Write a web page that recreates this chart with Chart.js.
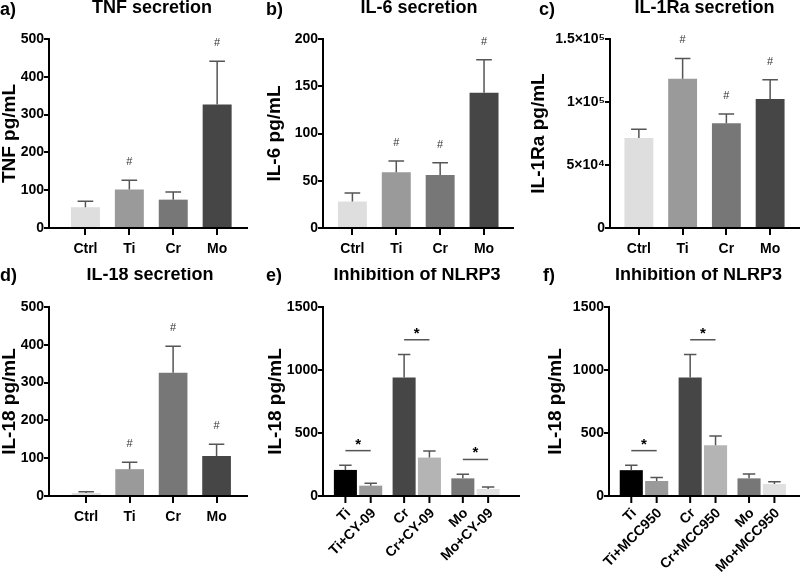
<!DOCTYPE html>
<html>
<head>
<meta charset="utf-8">
<script src="https://cdn.jsdelivr.net/npm/chart.js@4.4.1/dist/chart.umd.min.js"></script>
<style>
  html, body { margin: 0; padding: 0; background: #fff; }
  #wrap { position: relative; width: 800px; height: 577px; overflow: hidden; }
  .panel { position: absolute; }
  .letter { position: absolute; font: bold 18px 'Liberation Sans', Arial, sans-serif; line-height: 18px; color: #000; }
</style>
</head>
<body>
<div id="wrap"></div>
<script>
// cytokine panels a-d
const cytoCats = ['Ctrl', 'Ti', 'Cr', 'Mo'];
const cytoColors = ['#dedede', '#9a9a9a', '#777777', '#464646'];

const tnfMean = [55, 102, 75, 327];
const tnfSem = [16, 24, 20, 114];
const tnfSig = ['', '#', '', '#'];

const il6Mean = [28, 59, 56, 143];
const il6Sem = [9, 12, 13, 35];
const il6Sig = ['', '#', '#', '#'];

const il1raMean = [71500, 118400, 83200, 102300];
const il1raSem = [6900, 16200, 7200, 15400];
const il1raSig = ['', '#', '#', '#'];
const il1raTicks = ['0', '5×10⁴', '1×10⁵', '1.5×10⁵'];

const il18Mean = [8, 71, 326, 106];
const il18Sem = [3, 18, 70, 31];
const il18Sig = ['', '#', '#', '#'];

// NLRP3 inhibition panels e-f
const metalCats = ['Ti', 'Cr', 'Mo'];
const metalColors = ['#000000', '#464646', '#777777'];
const inhibColors = ['#9a9a9a', '#b4b4b4', '#e0e0e0'];

const cyLabels = ['Ti+CY-09', 'Cr+CY-09', 'Mo+CY-09'];
const metalMeanE = [207, 941, 140];
const metalSemE = [37, 183, 32];
const cyMean = [82, 305, 56];
const cySem = [19, 53, 16];
const cySigLine = [360, 1240, 290];

const mccLabels = ['Ti+MCC950', 'Cr+MCC950', 'Mo+MCC950'];
const metalMeanF = [205, 941, 140];
const metalSemF = [39, 183, 35];
const mccMean = [119, 403, 95];
const mccSem = [27, 74, 19];
const mccSigLine = [360, 1240, null];

const FONT = "'Liberation Sans', Arial, Helvetica, sans-serif";
Chart.defaults.font.family = FONT;
Chart.defaults.font.size = 14;
Chart.defaults.font.weight = 'bold';
Chart.defaults.color = '#000';

const panels = [
  {letter: 'a)', lx: 0, ly: 0, title: 'TNF secretion', yTitle: 'TNF pg/mL', left: 0, top: 0, w: 265, h: 268, yW: 49, padR: 18,
   xMin: -0.83, xMax: 3.68, yMax: 500, yStep: 100, titleY: 8.5, titleDx: 4,
   cats: cytoCats, mean: tnfMean, sem: tnfSem, sig: tnfSig},
  {letter: 'b)', lx: 266, ly: 0, title: 'IL-6 secretion', yTitle: 'IL-6 pg/mL', left: 265, top: 0, w: 264, h: 268, yW: 58, padR: 16,
   xMin: -0.67, xMax: 3.66, yMax: 200, yStep: 50, titleY: 8.5, titleDx: 1,
   cats: cytoCats, mean: il6Mean, sem: il6Sem, sig: il6Sig},
  {letter: 'c)', lx: 539, ly: 0, title: 'IL-1Ra secretion', yTitle: 'IL-1Ra pg/mL', left: 529, top: 0, w: 271, h: 268, yW: 81, padR: 1,
   xMin: -0.66, xMax: 3.66, yMax: 150000, yStep: 50000, yLabels: il1raTicks, titleY: 8.5, titleDx: 0,
   cats: cytoCats, mean: il1raMean, sem: il1raSem, sig: il1raSig},
  {letter: 'd)', lx: 0, ly: 266, title: 'IL-18 secretion', yTitle: 'IL-18 pg/mL', left: 0, top: 268, w: 265, h: 309, yW: 49, padR: 18,
   xMin: -0.855, xMax: 3.70, yMax: 500, yStep: 100, titleY: 7.5, titleDx: 2,
   cats: cytoCats, mean: il18Mean, sem: il18Sem, sig: il18Sig},
  {letter: 'e)', lx: 266, ly: 266, title: 'Inhibition of NLRP3', yTitle: 'IL-18 pg/mL', left: 266, top: 268, w: 280, h: 309, yW: 57, padR: 27,
   xMin: -0.597, xMax: 2.741, yMax: 1500, yStep: 500, titleY: 7.5, titleDx: -4,
   cats: metalCats, mean: metalMeanE, sem: metalSemE, inhibLabels: cyLabels, inhibMean: cyMean, inhibSem: cySem, sigLine: cySigLine},
  {letter: 'f)', lx: 543, ly: 266, title: 'Inhibition of NLRP3', yTitle: 'IL-18 pg/mL', left: 546, top: 268, w: 254, h: 309, yW: 63, padR: 0,
   xMin: -0.594, xMax: 2.65, yMax: 1500, yStep: 500, titleY: 7.5, titleDx: -6,
   cats: metalCats, mean: metalMeanF, sem: metalSemF, inhibLabels: mccLabels, inhibMean: mccMean, inhibSem: mccSem, sigLine: mccSigLine}
];

const wrap = document.getElementById('wrap');

function makeExtras(p) {
  return {
    id: 'extras',
    afterDatasetsDraw(chart) {
      const ctx = chart.ctx;
      const ys = chart.scales.y;
      const area = chart.chartArea;
      ctx.save();
      chart.data.datasets.forEach((ds, di) => {
        const meta = chart.getDatasetMeta(di);
        meta.data.forEach((bar, j) => {
          const top = ys.getPixelForValue(ds.data[j].y + ds.sem[j]);
          const half = bar.width * 0.27;
          ctx.strokeStyle = '#555';
          ctx.lineWidth = 1.5;
          ctx.beginPath();
          ctx.moveTo(bar.x, bar.y);
          ctx.lineTo(bar.x, top);
          ctx.moveTo(bar.x - half, top);
          ctx.lineTo(bar.x + half, top);
          ctx.stroke();
          if (ds.sig && ds.sig[j]) {
            ctx.fillStyle = '#333';
            ctx.font = '11px ' + FONT;
            ctx.textAlign = 'center';
            ctx.textBaseline = 'middle';
            ctx.fillText(ds.sig[j], bar.x, top - 18);
          }
        });
      });
      if (p.inhibLabels) {
        const m0 = chart.getDatasetMeta(0), m1 = chart.getDatasetMeta(1);
        // significance brackets
        p.sigLine.forEach((v, j) => {
          if (v == null) return;
          const yy = ys.getPixelForValue(v);
          ctx.strokeStyle = '#555';
          ctx.lineWidth = 1.5;
          ctx.beginPath();
          ctx.moveTo(m0.data[j].x, yy);
          ctx.lineTo(m1.data[j].x, yy);
          ctx.stroke();
          ctx.fillStyle = '#000';
          ctx.font = 'bold 15px ' + FONT;
          ctx.textAlign = 'center';
          ctx.textBaseline = 'alphabetic';
          ctx.fillText('*', (m0.data[j].x + m1.data[j].x) / 2, yy - 2);
        });
        // ticks and rotated labels under every bar
        const axisY = area.bottom;
        [[m0, p.cats], [m1, p.inhibLabels]].forEach(([meta, labels]) => {
          meta.data.forEach((bar, j) => {
            ctx.strokeStyle = '#000';
            ctx.lineWidth = 2;
            ctx.beginPath();
            ctx.moveTo(bar.x, axisY);
            ctx.lineTo(bar.x, axisY + 7);
            ctx.stroke();
            ctx.save();
            ctx.translate(bar.x + 3, axisY + 15);
            ctx.rotate(-Math.PI / 4);
            ctx.fillStyle = '#000';
            ctx.font = 'bold 14px ' + FONT;
            ctx.textAlign = 'right';
            ctx.textBaseline = 'middle';
            ctx.fillText(labels[j], 0, 0);
            ctx.restore();
          });
        });
      }
      ctx.restore();
    },
    afterDraw(chart) {
      const ctx = chart.ctx;
      const area = chart.chartArea;
      ctx.save();
      ctx.fillStyle = '#000';
      ctx.font = 'bold 18px ' + FONT;
      ctx.textAlign = 'center';
      ctx.textBaseline = 'middle';
      ctx.fillText(p.title, (area.left + area.right) / 2 + p.titleDx, p.titleY);
      ctx.restore();
    }
  };
}

function buildPanel(p) {
  const box = document.createElement('div');
  box.className = 'panel';
  box.style.left = p.left + 'px';
  box.style.top = p.top + 'px';
  box.style.width = p.w + 'px';
  box.style.height = p.h + 'px';
  const cv = document.createElement('canvas');
  cv.width = p.w;
  cv.height = p.h;
  cv.style.width = p.w + 'px';
  cv.style.height = p.h + 'px';
  box.appendChild(cv);
  wrap.appendChild(box);

  const lt = document.createElement('div');
  lt.className = 'letter';
  lt.style.left = p.lx + 'px';
  lt.style.top = p.ly + 'px';
  lt.textContent = p.letter;
  wrap.appendChild(lt);

  const grouped = !!p.inhibLabels;
  let datasets;
  if (grouped) {
    datasets = [
      {data: p.cats.map((c, i) => ({x: i, y: p.mean[i]})), sem: p.sem,
       backgroundColor: metalColors, categoryPercentage: 0.862, barPercentage: 0.91},
      {data: p.cats.map((c, i) => ({x: i, y: p.inhibMean[i]})), sem: p.inhibSem,
       backgroundColor: inhibColors, categoryPercentage: 0.862, barPercentage: 0.91}
    ];
  } else {
    datasets = [
      {data: p.cats.map((c, i) => ({x: i, y: p.mean[i]})), sem: p.sem, sig: p.sig,
       backgroundColor: cytoColors, categoryPercentage: 1, barPercentage: 0.66}
    ];
  }

  new Chart(cv, {
    type: 'bar',
    data: {datasets: datasets},
    options: {
      responsive: false,
      animation: false,
      layout: {padding: {left: 0, right: p.padR, top: 39, bottom: p.h - 228 - 30}},
      plugins: {legend: {display: false}, tooltip: {enabled: false}},
      scales: {
        x: {
          type: 'linear', bounds: 'data', min: p.xMin, max: p.xMax, offset: false,
          grid: {offset: false, drawOnChartArea: false, drawTicks: !grouped, tickLength: 7, color: '#000', lineWidth: 2},
          border: {display: true, color: '#000', width: 2},
          ticks: {display: !grouped, autoSkip: false, maxRotation: 0, padding: 6, color: '#000',
                  font: {size: 14, weight: 'bold'}, callback: v => p.cats[v]},
          afterBuildTicks: s => { s.ticks = p.cats.map((c, i) => ({value: i})); },
          afterFit: s => { s.height = 30; }
        },
        y: {
          min: 0, max: p.yMax,
          grid: {drawOnChartArea: false, tickLength: 5, color: '#000', lineWidth: 2},
          border: {display: true, color: '#000', width: 2},
          ticks: {stepSize: p.yStep, padding: 0, color: '#000', font: {size: 14, weight: 'bold'},
                  callback: (v, i) => p.yLabels ? p.yLabels[i] : v},
          title: {display: true, text: p.yTitle, color: '#000',
                  font: {size: 19, weight: 'bold', lineHeight: 1}, padding: {top: 0, bottom: 0}},
          afterFit: s => { s.width = p.yW; }
        }
      }
    },
    plugins: [makeExtras(p)]
  });
}

panels.forEach(buildPanel);
</script>
</body>
</html>
